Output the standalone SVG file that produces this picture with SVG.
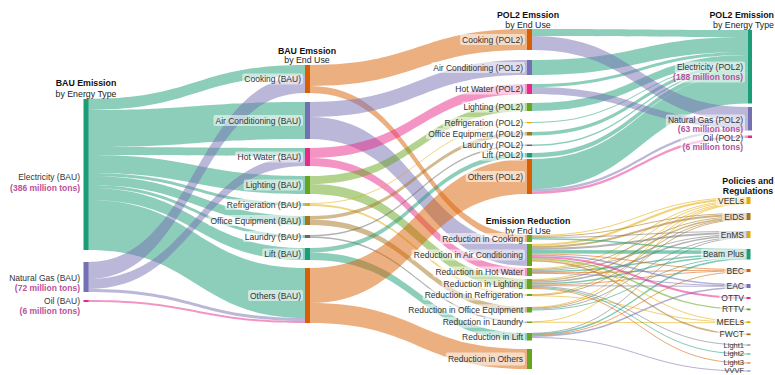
<svg xmlns="http://www.w3.org/2000/svg" width="775" height="375" viewBox="0 0 775 375">
<style>
text{font-family:"Liberation Sans",Arial,sans-serif;font-size:8.5px;fill:#333}
.t{font-weight:bold;fill:#111;font-size:8.8px;text-anchor:middle}
.st{fill:#222;font-size:8.8px;text-anchor:middle}
.r{text-anchor:end}
.e{text-anchor:end}
.sm{font-size:7.5px}
.mt{fill:#b8529c;font-weight:bold}
.lb{fill:#fff;fill-opacity:.55}
.fl path{fill-opacity:.5}
.pl path{fill:none;stroke-opacity:.55}
.te{fill:#1b9e77}.or{fill:#d95f02}.pu{fill:#7570b3}.pk{fill:#e7298a}.gr{fill:#66a61e}.ye{fill:#e6ab02}.br{fill:#a6761d}.gy{fill:#666}
.ste{stroke:#1b9e77}.sor{stroke:#d95f02}.spu{stroke:#7570b3}.spk{stroke:#e7298a}.sgr{stroke:#66a61e}.sye{stroke:#e6ab02}.sbr{stroke:#a6761d}.sgy{stroke:#777}
</style>
<rect width="775" height="375" fill="#fff"/>
<g id="connectors">
<g class="fl">
<path class="te" d="M88,99C196.5,99 196.5,65 305,65L305,76C196.5,76 196.5,110 88,110Z"/>
<path class="te" d="M88,110C196.5,110 196.5,102 305,102L305,139C196.5,139 196.5,147 88,147Z"/>
<path class="te" d="M88,147C196.5,147 196.5,148 305,148L305,156C196.5,156 196.5,155 88,155Z"/>
<path class="te" d="M88,155C196.5,155 196.5,176 305,176L305,194C196.5,194 196.5,173 88,173Z"/>
<path class="te" d="M88,173C196.5,173 196.5,203 305,203L305,206C196.5,206 196.5,176 88,176Z"/>
<path class="te" d="M88,176C196.5,176 196.5,216 305,216L305,225C196.5,225 196.5,185 88,185Z"/>
<path class="te" d="M88,185C196.5,185 196.5,235 305,235L305,238C196.5,238 196.5,188 88,188Z"/>
<path class="te" d="M88,188C196.5,188 196.5,248 305,248L305,260C196.5,260 196.5,200 88,200Z"/>
<path class="te" d="M88,200C196.5,200 196.5,268 305,268L305,318C196.5,318 196.5,250 88,250Z"/>
<path class="pu" d="M88,262C196.5,262 196.5,76 305,76L305,93C196.5,93 196.5,279 88,279Z"/>
<path class="pu" d="M88,279C196.5,279 196.5,156 305,156L305,166C196.5,166 196.5,289 88,289Z"/>
<path class="pu" d="M88,289C196.5,289 196.5,318 305,318L305,321C196.5,321 196.5,292 88,292Z"/>
<path class="pk" d="M88,300C196.5,300 196.5,321 305,321L305,323C196.5,323 196.5,302 88,302Z"/>

<path class="or" d="M310,65C418.5,65 418.5,29 527,29L527,50C418.5,50 418.5,86 310,86Z"/>
<path class="or" d="M310,86C418.5,86 418.5,235 527,235L527,242C418.5,242 418.5,93 310,93Z"/>
<path class="pu" d="M310,102C418.5,102 418.5,60 527,60L527,75C418.5,75 418.5,117 310,117Z"/>
<path class="pu" d="M310,117C418.5,117 418.5,244 527,244L527,266C418.5,266 418.5,139 310,139Z"/>
<path class="pk" d="M310,148C418.5,148 418.5,84 527,84L527,94C418.5,94 418.5,158 310,158Z"/>
<path class="pk" d="M310,158C418.5,158 418.5,268 527,268L527,276C418.5,276 418.5,166 310,166Z"/>
<path class="gr" d="M310,176C418.5,176 418.5,103 527,103L527,111C418.5,111 418.5,184 310,184Z"/>
<path class="gr" d="M310,184C418.5,184 418.5,279 527,279L527,289C418.5,289 418.5,194 310,194Z"/>
<path class="ye" d="M310,203C418.5,203 418.5,122 527,122L527,123C418.5,123 418.5,204 310,204Z"/>
<path class="ye" d="M310,204C418.5,204 418.5,294 527,294L527,296C418.5,296 418.5,206 310,206Z"/>
<path class="br" d="M310,216C418.5,216 418.5,132 527,132L527,135.5C418.5,135.5 418.5,219.5 310,219.5Z"/>
<path class="br" d="M310,219.5C418.5,219.5 418.5,307 527,307L527,312.5C418.5,312.5 418.5,225 310,225Z"/>
<path class="gy" d="M310,235C418.5,235 418.5,144.5 527,144.5L527,146C418.5,146 418.5,236.5 310,236.5Z"/>
<path class="gy" d="M310,236.5C418.5,236.5 418.5,321.5 527,321.5L527,323C418.5,323 418.5,238 310,238Z"/>
<path class="te" d="M310,248C418.5,248 418.5,153 527,153L527,157.5C418.5,157.5 418.5,252.5 310,252.5Z"/>
<path class="te" d="M310,252.5C418.5,252.5 418.5,333 527,333L527,340.5C418.5,340.5 418.5,260 310,260Z"/>
<path class="or" d="M310,268C418.5,268 418.5,159 527,159L527,194C418.5,194 418.5,303 310,303Z"/>
<path class="or" d="M310,303C418.5,303 418.5,349 527,349L527,369C418.5,369 418.5,323 310,323Z"/>

<path class="te" d="M532,29C640,29 640,30 748,30L748,37C640,37 640,36 532,36Z"/>
<path class="te" d="M532,60C640,60 640,37 748,37L748,52C640,52 640,75 532,75Z"/>
<path class="te" d="M532,84C640,84 640,52 748,52L748,55C640,55 640,87 532,87Z"/>
<path class="te" d="M532,103C640,103 640,55 748,55L748,63C640,63 640,111 532,111Z"/>
<path class="te" d="M532,122C640,122 640,63 748,63L748,64C640,64 640,123 532,123Z"/>
<path class="te" d="M532,132C640,132 640,64 748,64L748,67.5C640,67.5 640,135.5 532,135.5Z"/>
<path class="te" d="M532,144.5C640,144.5 640,67.5 748,67.5L748,69C640,69 640,146 532,146Z"/>
<path class="te" d="M532,153C640,153 640,69 748,69L748,73.5C640,73.5 640,157.5 532,157.5Z"/>
<path class="te" d="M532,159C640,159 640,73.5 748,73.5L748,103.5C640,103.5 640,189 532,189Z"/>
<path class="pu" d="M532,36C640,36 640,107 748,107L748,121C640,121 640,50 532,50Z"/>
<path class="pu" d="M532,87C640,87 640,121 748,121L748,128C640,128 640,94 532,94Z"/>
<path class="pu" d="M532,189C640,189 640,128 748,128L748,130.5C640,130.5 640,191.5 532,191.5Z"/>
<path class="pk" d="M532,191.5C640,191.5 640,135.5 748,135.5L748,138C640,138 640,194 532,194Z"/>
</g>
<g class="pl">
<path class="sye" stroke-width="1" d="M532,235.5C639.5,235.5 639.5,197.5 747,197.5"/>
<path class="sye" stroke-width="2" d="M532,245C639.5,245 639.5,199 747,199"/>
<path class="sye" stroke-width="1" d="M532,268.5C639.5,268.5 639.5,200.5 747,200.5"/>
<path class="sye" stroke-width="1" d="M532,279.5C639.5,279.5 639.5,201.5 747,201.5"/>
<path class="sye" stroke-width="1" d="M532,294.5C639.5,294.5 639.5,202.5 747,202.5"/>
<path class="sye" stroke-width="1" d="M532,307.25C639.5,307.25 639.5,203.25 747,203.25"/>
<path class="sye" stroke-width="1" d="M532,321.75C639.5,321.75 639.5,203.75 747,203.75"/>
<path class="sbr" stroke-width="1" d="M532,236.5C639.5,236.5 639.5,213.5 747,213.5"/>
<path class="sbr" stroke-width="2" d="M532,247C639.5,247 639.5,215 747,215"/>
<path class="sbr" stroke-width="1" d="M532,269.5C639.5,269.5 639.5,216.5 747,216.5"/>
<path class="sbr" stroke-width="1.5" d="M532,280.75C639.5,280.75 639.5,217.75 747,217.75"/>
<path class="sbr" stroke-width="1" d="M532,295.25C639.5,295.25 639.5,218.75 747,218.75"/>
<path class="sbr" stroke-width="1" d="M532,308C639.5,308 639.5,219.5 747,219.5"/>
<path class="sgy" stroke-width="1" d="M532,237.5C639.5,237.5 639.5,231.5 747,231.5"/>
<path class="sgy" stroke-width="2" d="M532,249C639.5,249 639.5,233 747,233"/>
<path class="sgy" stroke-width="1" d="M532,270.5C639.5,270.5 639.5,234.5 747,234.5"/>
<path class="sgy" stroke-width="1.5" d="M532,282.25C639.5,282.25 639.5,235.75 747,235.75"/>
<path class="sgy" stroke-width="1" d="M532,309C639.5,309 639.5,237 747,237"/>
<path class="sgy" stroke-width="1" d="M532,333.25C639.5,333.25 639.5,237.75 747,237.75"/>
<path class="ste" stroke-width="1.5" d="M532,238.75C639.5,238.75 639.5,249.75 747,249.75"/>
<path class="ste" stroke-width="3.5" d="M532,251.75C639.5,251.75 639.5,252.25 747,252.25"/>
<path class="ste" stroke-width="1.5" d="M532,271.75C639.5,271.75 639.5,254.75 747,254.75"/>
<path class="ste" stroke-width="1.5" d="M532,283.75C639.5,283.75 639.5,256.25 747,256.25"/>
<path class="ste" stroke-width="1" d="M532,310C639.5,310 639.5,257.5 747,257.5"/>
<path class="ste" stroke-width="1.5" d="M532,334.25C639.5,334.25 639.5,258.75 747,258.75"/>
<path class="sor" stroke-width="1" d="M532,254C639.5,254 639.5,269.5 747,269.5"/>
<path class="sor" stroke-width="1" d="M532,272.75C639.5,272.75 639.5,270.25 747,270.25"/>
<path class="sor" stroke-width="1" d="M532,285C639.5,285 639.5,271 747,271"/>
<path class="sor" stroke-width="1" d="M532,335.25C639.5,335.25 639.5,271.75 747,271.75"/>
<path class="spu" stroke-width="1.5" d="M532,255.25C639.5,255.25 639.5,284.75 747,284.75"/>
<path class="spu" stroke-width="1" d="M532,273.25C639.5,273.25 639.5,285.75 747,285.75"/>
<path class="spu" stroke-width="1" d="M532,285.75C639.5,285.75 639.5,286.25 747,286.25"/>
<path class="spu" stroke-width="1.5" d="M532,336.25C639.5,336.25 639.5,287.25 747,287.25"/>
<path class="spk" stroke-width="2" d="M532,257C639.5,257 639.5,298 747,298"/>
<path class="sgr" stroke-width="1.5" d="M532,258.75C639.5,258.75 639.5,309.25 747,309.25"/>
<path class="sye" stroke-width="1" d="M532,259.75C639.5,259.75 639.5,321.75 747,321.75"/>
<path class="sye" stroke-width="1" d="M532,295.75C639.5,295.75 639.5,322.25 747,322.25"/>
<path class="sye" stroke-width="1" d="M532,322.25C639.5,322.25 639.5,322.75 747,322.75"/>
<path class="sbr" stroke-width="1.5" d="M532,260.75C639.5,260.75 639.5,334.25 747,334.25"/>
<path class="sgy" stroke-width="1" d="M532,286.5C639.5,286.5 639.5,345 747,345"/>
<path class="ste" stroke-width="1" d="M532,287.5C639.5,287.5 639.5,354 747,354"/>
<path class="sor" stroke-width="1" d="M532,288.5C639.5,288.5 639.5,363 747,363"/>
<path class="spu" stroke-width="1" d="M532,337.5C639.5,337.5 639.5,371 747,371"/>
</g>
</g>

<g id="titles">
<text class="t" x="86" y="86">BAU Emission</text><text class="st" x="86" y="96.5">by Energy Type</text>
<text class="t" x="307" y="53.5">BAU Emssion</text><text class="st" x="307" y="63">by End Use</text>
<text class="t" x="528" y="17.5">POL2 Emssion</text><text class="st" x="528" y="27.5">by End Use</text>
<text class="t e" x="774" y="17.5">POL2 Emission</text><text class="st e" x="774" y="27.5">by Energy Type</text>
<text class="t" x="528" y="223.5">Emission Reduction</text><text class="st" x="528" y="233.5">by End Use</text>
<text class="t" x="748" y="183.5">Policies and</text><text class="t" x="748" y="194">Regulations</text>
</g>

<g id="bau-electricity"><rect class="te" x="83.5" y="99" width="5" height="151"/><text class="r" x="80" y="180">Electricity (BAU)</text><text class="r mt" x="80" y="190.5">(386 million tons)</text></g>
<g id="bau-natural-gas"><rect class="pu" x="83.5" y="262" width="5" height="30"/><text class="r" x="80" y="280.5">Natural Gas (BAU)</text><text class="r mt" x="80" y="290.5">(72 million tons)</text></g>
<g id="bau-oil"><rect class="pk" x="83.5" y="300" width="5" height="2"/><text class="r" x="80" y="304">Oil (BAU)</text><text class="r mt" x="80" y="313.5">(6 million tons)</text></g>

<g id="bau-cooking"><rect class="or" x="305" y="65" width="5" height="28"/><rect class="lb" x="242.3" y="73.5" width="60.7" height="11" rx="2"/><text class="r" x="301" y="82">Cooking (BAU)</text></g>
<g id="bau-ac"><rect class="pu" x="305" y="102" width="5" height="37"/><rect class="lb" x="213.5" y="115" width="89.5" height="11" rx="2"/><text class="r" x="301" y="123.5">Air Conditioning (BAU)</text></g>
<g id="bau-hot-water"><rect class="pk" x="305" y="148" width="5" height="18"/><rect class="lb" x="235.2" y="151.5" width="67.8" height="11" rx="2"/><text class="r" x="301" y="160">Hot Water (BAU)</text></g>
<g id="bau-lighting"><rect class="gr" x="305" y="176" width="5" height="18"/><rect class="lb" x="243.7" y="179.5" width="59.3" height="11" rx="2"/><text class="r" x="301" y="188">Lighting (BAU)</text></g>
<g id="bau-refrigeration"><rect class="ye" x="305" y="203" width="5" height="3"/><rect class="lb" x="224.8" y="199" width="78.2" height="11" rx="2"/><text class="r" x="301" y="207.5">Refrigeration (BAU)</text></g>
<g id="bau-office"><rect class="br" x="305" y="216" width="5" height="9"/><rect class="lb" x="208.3" y="215" width="94.7" height="11" rx="2"/><text class="r" x="301" y="223.5">Office Equipment (BAU)</text></g>
<g id="bau-laundry"><rect class="gy" x="305" y="235" width="5" height="3"/><rect class="lb" x="242.8" y="231" width="60.2" height="11" rx="2"/><text class="r" x="301" y="239.5">Laundry (BAU)</text></g>
<g id="bau-lift"><rect class="te" x="305" y="248" width="5" height="12"/><rect class="lb" x="262.2" y="248.5" width="40.8" height="11" rx="2"/><text class="r" x="301" y="257">Lift (BAU)</text></g>
<g id="bau-others"><rect class="or" x="305" y="268" width="5" height="55"/><rect class="lb" x="248" y="290" width="55" height="11" rx="2"/><text class="r" x="301" y="298.5">Others (BAU)</text></g>

<g id="pol2-cooking"><rect class="or" x="527" y="29" width="5" height="21"/><rect class="lb" x="460.1" y="34" width="64.9" height="11" rx="2"/><text class="r" x="523" y="42.5">Cooking (POL2)</text></g>
<g id="pol2-ac"><rect class="pu" x="527" y="60" width="5" height="15"/><rect class="lb" x="431.2" y="62" width="93.8" height="11" rx="2"/><text class="r" x="523" y="70.5">Air Conditioning (POL2)</text></g>
<g id="pol2-hot-water"><rect class="pk" x="527" y="84" width="5" height="10"/><rect class="lb" x="453" y="83.5" width="72" height="11" rx="2"/><text class="r" x="523" y="92">Hot Water (POL2)</text></g>
<g id="pol2-lighting"><rect class="gr" x="527" y="103" width="5" height="8"/><rect class="lb" x="461.5" y="101.5" width="63.5" height="11" rx="2"/><text class="r" x="523" y="110">Lighting (POL2)</text></g>
<g id="pol2-refrigeration"><rect class="ye" x="527" y="122" width="5" height="1.2"/><rect class="lb" x="442.6" y="117" width="82.4" height="11" rx="2"/><text class="r" x="523" y="125.5">Refrigeration (POL2)</text></g>
<g id="pol2-office"><rect class="br" x="527" y="132" width="5" height="3.5"/><rect class="lb" x="426" y="128.3" width="99" height="11" rx="2"/><text class="r" x="523" y="137">Office Equipment (POL2)</text></g>
<g id="pol2-laundry"><rect class="gy" x="527" y="144.5" width="5" height="1.5"/><rect class="lb" x="460.5" y="139.8" width="64.5" height="11" rx="2"/><text class="r" x="523" y="148.3">Laundry (POL2)</text></g>
<g id="pol2-lift"><rect class="te" x="527" y="153" width="5" height="4.5"/><rect class="lb" x="479.9" y="149.8" width="45.1" height="11" rx="2"/><text class="r" x="523" y="158.3">Lift (POL2)</text></g>
<g id="pol2-others"><rect class="or" x="527" y="159" width="5" height="35"/><rect class="lb" x="465.7" y="171" width="59.3" height="11" rx="2"/><text class="r" x="523" y="179.5">Others (POL2)</text></g>

<g id="pol2-electricity"><rect class="te" x="748" y="30" width="4" height="73.5"/><rect class="lb" x="674.9" y="61.5" width="70.1" height="21" rx="2"/><text class="r" x="743" y="70">Electricity (POL2)</text><text class="r mt" x="743" y="80.3">(188 million tons)</text></g>
<g id="pol2-natural-gas"><rect class="pu" x="748" y="107" width="4" height="23.5"/><rect class="lb" x="665.9" y="114.5" width="79.1" height="20" rx="2"/><text class="r" x="743" y="122.8">Natural Gas (POL2)</text><text class="r mt" x="743" y="131.6">(63 million tons)</text></g>
<g id="pol2-oil"><rect class="pk" x="748" y="135.5" width="4" height="2.5"/><rect class="lb" x="680.5" y="133" width="64.5" height="19" rx="2"/><text class="r" x="743" y="140.8">Oil (POL2)</text><text class="r mt" x="743" y="149.6">(6 million tons)</text></g>

<g id="red-cooking"><rect class="gr" x="527" y="235" width="5" height="7"/><rect class="lb" x="440.2" y="233" width="84.8" height="11" rx="2"/><text class="r" x="523" y="241.5">Reduction in Cooking</text></g>
<g id="red-ac"><rect class="gr" x="527" y="244" width="5" height="22"/><rect class="lb" x="411.4" y="249.5" width="113.6" height="11" rx="2"/><text class="r" x="523" y="258">Reduction in Air Conditioning</text></g>
<g id="red-hot-water"><rect class="gr" x="527" y="268" width="5" height="8"/><rect class="lb" x="433.1" y="266.5" width="91.9" height="11" rx="2"/><text class="r" x="523" y="275">Reduction in Hot Water</text></g>
<g id="red-lighting"><rect class="gr" x="527" y="279" width="5" height="10"/><rect class="lb" x="441.6" y="278.5" width="83.4" height="11" rx="2"/><text class="r" x="523" y="287">Reduction in Lighting</text></g>
<g id="red-refrigeration"><rect class="gr" x="527" y="294" width="5" height="2"/><rect class="lb" x="422.7" y="289.5" width="102.3" height="11" rx="2"/><text class="r" x="523" y="298">Reduction in Refrigeration</text></g>
<g id="red-office"><rect class="gr" x="527" y="307" width="5" height="5.5"/><rect class="lb" x="406.2" y="304.3" width="118.8" height="11" rx="2"/><text class="r" x="523" y="312.8">Reduction in Office Equipment</text></g>
<g id="red-laundry"><rect class="gr" x="527" y="321.5" width="5" height="1.5"/><rect class="lb" x="440.7" y="316.8" width="84.3" height="11" rx="2"/><text class="r" x="523" y="325.3">Reduction in Laundry</text></g>
<g id="red-lift"><rect class="gr" x="527" y="333" width="5" height="7.5"/><rect class="lb" x="460.1" y="331.3" width="64.9" height="11" rx="2"/><text class="r" x="523" y="339.8">Reduction in Lift</text></g>
<g id="red-others"><rect class="gr" x="527" y="349" width="5" height="20"/><rect class="lb" x="445.9" y="352.5" width="79.1" height="13" rx="2"/><text class="r" x="523" y="362">Reduction in Others</text></g>

<g id="pol-veels"><rect class="ye" x="747" y="197" width="3.5" height="7"/><rect class="lb" x="716" y="195" width="30" height="11" rx="2"/><text class="r" x="744" y="203.5">VEELs</text></g>
<g id="pol-eids"><rect class="br" x="747" y="213" width="3.5" height="7"/><rect class="lb" x="722.2" y="211" width="23.8" height="11" rx="2"/><text class="r" x="744" y="219.5">EIDS</text></g>
<g id="pol-enms"><rect class="ye" x="747" y="231" width="3.5" height="7"/><rect class="lb" x="718.9" y="229" width="27.1" height="11" rx="2"/><text class="r" x="744" y="237.5">EnMS</text></g>
<g id="pol-beam-plus"><rect class="te" x="747" y="249" width="3.5" height="10.5"/><rect class="lb" x="700.9" y="248.7" width="45.1" height="11" rx="2"/><text class="r" x="744" y="257.3">Beam Plus</text></g>
<g id="pol-bec"><rect class="or" x="747" y="269" width="3.5" height="3"/><rect class="lb" x="724.5" y="265" width="21.5" height="11" rx="2"/><text class="r" x="744" y="273.5">BEC</text></g>
<g id="pol-eac"><rect class="pu" x="747" y="284" width="3.5" height="4"/><rect class="lb" x="724.5" y="280.5" width="21.5" height="11" rx="2"/><text class="r" x="744" y="289">EAC</text></g>
<g id="pol-ottv"><rect class="pk" x="747" y="297" width="3.5" height="2"/><rect class="lb" x="719.3" y="292.5" width="26.7" height="11" rx="2"/><text class="r" x="744" y="301">OTTV</text></g>
<g id="pol-rttv"><rect class="gr" x="747" y="308.5" width="3.5" height="1.8"/><rect class="lb" x="719.8" y="303.8" width="26.2" height="11" rx="2"/><text class="r" x="744" y="312.3">RTTV</text></g>
<g id="pol-meels"><rect class="ye" x="747" y="321.3" width="3.5" height="1.8"/><rect class="lb" x="714.6" y="316.8" width="31.4" height="11" rx="2"/><text class="r" x="744" y="325.3">MEELs</text></g>
<g id="pol-fwct"><rect class="br" x="747" y="333.4" width="3.5" height="1.8"/><rect class="lb" x="717.5" y="328.8" width="28.5" height="11" rx="2"/><text class="r" x="744" y="337.3">FWCT</text></g>
<g id="pol-light1"><rect class="gy" x="747" y="344.5" width="3.5" height="1"/><text class="r sm" x="744" y="347.5">Light1</text></g>
<g id="pol-light2"><rect class="te" x="747" y="353.5" width="3.5" height="1"/><text class="r sm" x="744" y="356.3">Light2</text></g>
<g id="pol-light3"><rect class="or" x="747" y="362.5" width="3.5" height="1"/><text class="r sm" x="744" y="365">Light3</text></g>
<g id="pol-vvvf"><rect class="pu" x="747" y="370.5" width="3.5" height="1"/><text class="r sm" x="744" y="372.8">VVVF</text></g>
</svg>
